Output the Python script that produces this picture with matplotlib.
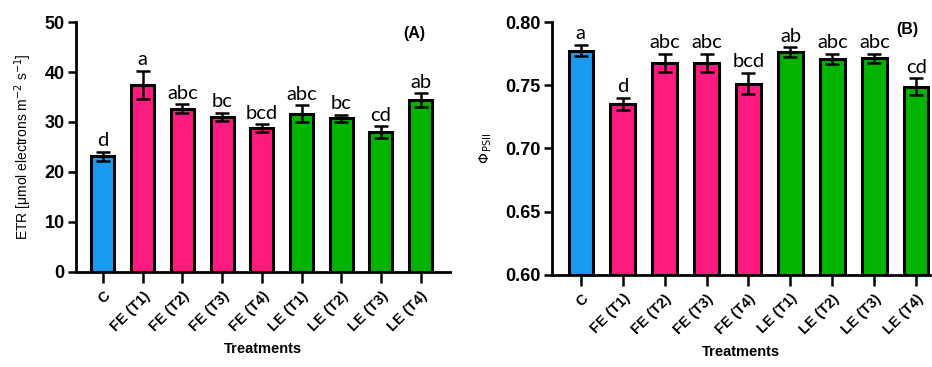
import numpy as np
import matplotlib
matplotlib.use('Agg')
import matplotlib.pyplot as plt

plt.rcParams['font.family'] = ['Liberation Sans', 'DejaVu Sans']

treatments = ['C', 'FE (T1)', 'FE (T2)', 'FE (T3)', 'FE (T4)',
              'LE (T1)', 'LE (T2)', 'LE (T3)', 'LE (T4)']
bar_colors = ['#1a9bf0'] + ['#ff1a7f'] * 4 + ['#00b400'] * 4

etr_mean = [23.1, 37.4, 32.6, 31.0, 28.7, 31.6, 30.7, 27.9, 34.3]
etr_err = [0.9, 2.9, 0.9, 0.8, 0.8, 1.7, 0.7, 1.2, 1.4]
etr_letters = ['d', 'a', 'abc', 'bc', 'bcd', 'abc', 'bc', 'cd', 'ab']

phi_mean = [0.7773, 0.7355, 0.7675, 0.7675, 0.7513, 0.7760, 0.7705, 0.7713, 0.7487]
phi_err = [0.0045, 0.0047, 0.0071, 0.0071, 0.0082, 0.0040, 0.0040, 0.0035, 0.0068]
phi_letters = ['a', 'd', 'abc', 'abc', 'bcd', 'ab', 'abc', 'abc', 'cd']


def draw_panel(ax, means, errs, letters, ylim, yticks, yfmt, ylabel, tag, tag_pos, xlim):
    x = np.arange(len(treatments))
    ax.bar(x, np.array(means) - ylim[0], bottom=ylim[0], width=0.58,
           color=bar_colors, edgecolor='black', linewidth=2.2, zorder=2)
    ax.errorbar(x, means, yerr=errs, fmt='none', ecolor='black',
                elinewidth=1.8, capsize=5, capthick=1.8, zorder=3)
    for xi, m, e, lab in zip(x, means, errs, letters):
        ax.annotate(lab, (xi, m + e), xytext=(0, 2), textcoords='offset points',
                    ha='center', va='bottom', fontsize=14.5, family='Lato')
    ax.set_ylim(*ylim)
    ax.set_xlim(*xlim)
    ax.set_yticks(yticks)
    ax.set_yticklabels([yfmt.format(v) for v in yticks],
                       fontsize=13, fontweight='bold')
    ax.set_xticks(x)
    ax.set_xticklabels(treatments, rotation=45, ha='right',
                       rotation_mode='anchor', fontsize=10.5, fontweight='bold')
    ax.spines['top'].set_visible(False)
    ax.spines['right'].set_visible(False)
    ax.spines['left'].set_linewidth(2)
    ax.spines['bottom'].set_linewidth(2)
    ax.tick_params(axis='y', length=6, width=1.8, pad=2)
    ax.tick_params(axis='x', length=8, width=1.8, pad=4)
    ax.set_ylabel(ylabel, fontsize=10, labelpad=8)
    ax.set_xlabel('Treatments', fontsize=10.5, fontweight='bold',
                  family=['Liberation Sans Narrow', 'Liberation Sans'], labelpad=6)
    ax.text(tag_pos[0], tag_pos[1], tag, transform=ax.transAxes, ha='center',
            va='center', fontsize=11.5, fontweight='bold')


fig = plt.figure(figsize=(9.32, 3.67), dpi=100)
ax1 = fig.add_axes([0.0815, 0.259, 0.401, 0.681])
ax2 = fig.add_axes([0.592, 0.251, 0.406, 0.689])

draw_panel(ax1, etr_mean, etr_err, etr_letters, (0, 50), [0, 10, 20, 30, 40, 50],
           '{:.0f}', 'ETR [\u03bcmol electrons m$^{-2}$ s$^{-1}$]', '(A)',
           (0.906, 0.955), (-0.68, 8.73))
draw_panel(ax2, phi_mean, phi_err, phi_letters, (0.60, 0.80),
           [0.60, 0.65, 0.70, 0.75, 0.80], '{:.2f}', r'$\Phi_{\,\mathrm{PSII}}$',
           '(B)', (0.94, 0.97), (-0.69, 8.33))

fig.savefig('out.png', dpi=100)
